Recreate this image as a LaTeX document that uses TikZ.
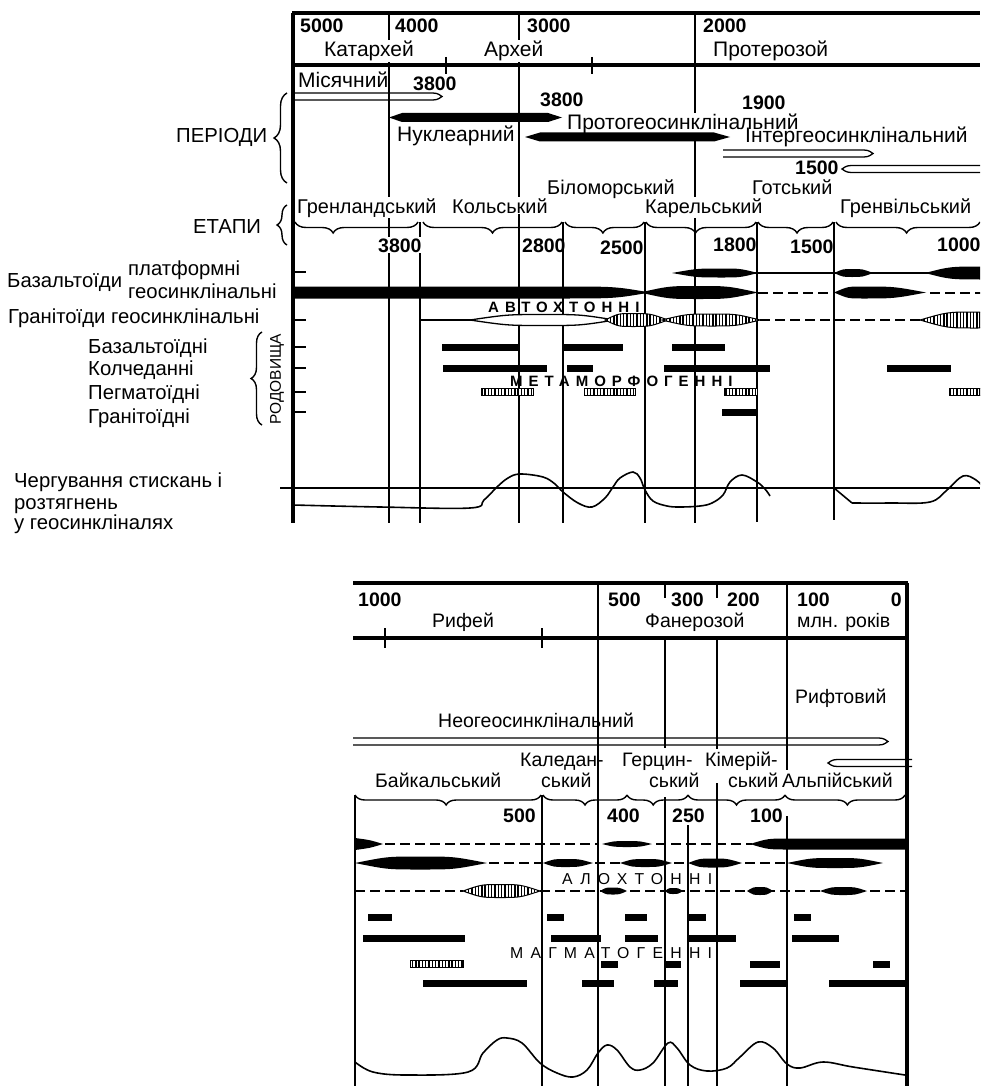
\documentclass[tikz,border=0pt]{standalone}
\usepackage{fontspec}
\setmainfont{Liberation Sans}
\newfontfamily\spcb[LetterSpace=40]{Liberation Sans}
\newfontfamily\spcr[LetterSpace=46]{Liberation Sans}
\usetikzlibrary{decorations.pathreplacing,patterns.meta}

\newcommand{\lensG}[6][fill=black]{%
  \path[#1] (#2,#4) .. controls ({#2+0.5*(#6-#2)},{#4-#5}) .. (#6,{#4-#5})
   .. controls ({#6+0.5*(#3-#6)},{#4-#5}) .. (#3,#4)
   .. controls ({#6+0.5*(#3-#6)},{#4+#5}) .. (#6,{#4+#5})
   .. controls ({#2+0.5*(#6-#2)},{#4+#5}) .. (#2,#4) -- cycle;}
\newcommand{\hollowR}[3]{\draw[hol] (#1,{#3-3.5}) -- ({#2-14},{#3-3.5}) .. controls ({#2-5},{#3-3.5}) .. (#2,#3) .. controls ({#2-5},{#3+3.5}) .. ({#2-14},{#3+3.5}) -- (#1,{#3+3.5});}
\newcommand{\hollowL}[3]{\draw[hol] (#2,{#3-3.5}) -- ({#1+14},{#3-3.5}) .. controls ({#1+5},{#3-3.5}) .. (#1,#3) .. controls ({#1+5},{#3+3.5}) .. ({#1+14},{#3+3.5}) -- (#2,{#3+3.5});}
\newcommand{\dbar}[3]{\fill (#1,{#3-3.5}) rectangle (#2,{#3+3.5});}
\newcommand{\hatchbar}[3]{\path[hatch] (#1,{#3-3.5}) rectangle (#2,{#3+3.5});}
\newcommand{\hbrace}[4]{\draw[decorate,decoration={brace,mirror,amplitude=#4pt,aspect=#3},line width=1.4pt] (#1) -- (#2);}

\begin{document}
\begin{tikzpicture}[x=1pt,y=-1pt,
  lbl/.style={anchor=base west,inner sep=0pt,font=\fontsize{19.5}{22}\selectfont},
  lbla/.style={anchor=base west,inner sep=0pt,font=\fontsize{21}{23}\selectfont},
  lbll/.style={anchor=base west,inner sep=0pt,font=\fontsize{20.3}{23}\selectfont},
  lble/.style={anchor=base west,inner sep=0pt,font=\fontsize{19.9}{22}\selectfont},
  mask/.style={fill=white,inner ysep=1pt},
  num/.style={lbl,font=\fontsize{19.5}{22}\selectfont\bfseries},
  spl/.style={anchor=base west,inner sep=0pt,font=\spcb\fontsize{15}{17}\selectfont\bfseries},
  splr/.style={anchor=base west,inner sep=0pt,font=\spcr\fontsize{15.8}{17}\selectfont},
  frm/.style={line width=3.2pt},
  vl/.style={line width=2pt},
  tk/.style={line width=1.5pt},
  hol/.style={line width=1.3pt},
  dsh/.style={line width=2pt,dash pattern=on 10pt off 5pt},
  crv/.style={line width=1.6pt},
  hatch/.style={preaction={fill=white},pattern={Lines[angle=90,distance=3.3pt,line width=1.4pt]},draw,line width=1pt},
  vbrc/.style={decorate,decoration={brace,amplitude=#1},line width=1.4pt}
]
\useasboundingbox (0,0) rectangle (980,1086);
\clip (0,0) rectangle (980,1086);

% ================= TOP PANEL =================
\draw[frm] (292,13) -- (980,13);
\draw[frm] (292,65) -- (980,65);
\draw[line width=3.5pt] (293,13) -- (293,523);
\draw[vl] (389,13) -- (389,523);
\draw[vl] (519,13) -- (519,523);
\draw[vl] (695,13) -- (695,523);
\draw[vl] (420,222) -- (420,523);
\draw[vl] (563,222) -- (563,523);
\draw[vl] (645,222) -- (645,523);
\draw[vl] (757,222) -- (757,522);
\draw[vl] (834,222) -- (834,520);
\draw[tk] (446,57) -- (446,74);
\draw[tk] (592,57) -- (592,74);
\foreach \yy in {272,320,347,368,392,412} \draw[tk] (293,\yy) -- (306,\yy);
\draw[tk] (280,488) -- (980,488);

% header texts
\node[num] (n5000) at (300,33) {5000};
\node[num] (n4000) at (395,33) {4000};
\node[num] (n3000) at (527,33) {3000};
\node[num] (n2000) at (703,33) {2000};
\node[lbla,mask] (katar) at (324,57) {Катархей};
\node[lbla,mask] (arkh) at (484,57) {Архей};
\node[lbla] (proter) at (713,57) {Протерозой};

% periods
\node[lbla] (misyach) at (298,88) {Місячний};
\node[num] (p3800a) at (413,91) {3800};
\node[num] (p3800b) at (540,107) {3800};
\node[lbla] (nukl) at (397,142) {Нуклеарний};
\node[lbla,mask] (protog) at (567,130) {Протогеосинклінальний};
\node[num] (p1900) at (742,110) {1900};
\node[lbla] (interg) at (745,143) {Інтергеосинклінальний};
\node[num] (p1500) at (795,175) {1500};
\hollowR{293}{442}{96.5}
\fill (389,117.5) -- (402,113) -- (548,113) -- (562,117.5) -- (548,122) -- (402,122) -- cycle;
\fill (525,137) -- (540,132.5) -- (714,132.5) -- (730,137) -- (714,141.5) -- (540,141.5) -- cycle;
\hollowR{723}{873}{153.5}
\hollowL{842}{990}{169}

% etapi
\node[lble] (bilom) at (547,194) {Біломорський};
\node[lble] (gots) at (752,194) {Готський};
\node[lble,mask] (grenl) at (297,213) {Гренландський};
\node[lble,mask] (kol) at (452,213) {Кольський};
\node[lble,mask] (karel) at (645,213) {Карельський};
\node[lble] (grenv) at (840,213) {Гренвільський};
\hbrace{295,222}{418,222}{0.31}{11}
\hbrace{423,222}{562,222}{0.5}{11}
\hbrace{565,222}{644,222}{0.48}{11}
\hbrace{646,222}{756,222}{0.45}{11}
\hbrace{758,222}{833,222}{0.52}{11}
\hbrace{836,222}{980,222}{0.49}{11}
\node[num,mask] (e3800) at (378,252) {3800};
\node[num] (e2800) at (522,252) {2800};
\node[num] (e2500) at (600,254) {2500};
\node[num] (e1800) at (713,251) {1800};
\node[num] (e1500) at (790,253) {1500};
\node[num] (e1000) at (937,251) {1000};

% left labels
\node[lbll] (perl) at (176,143) {ПЕРІОДИ};
\node[lbll] (etl) at (193,233) {ЕТАПИ};
\node[lbll] (bazl) at (7,287) {Базальтоїди};
\node[lbll] (platl) at (128,275) {платформні};
\node[lbll] (geosl) at (128,298) {геосинклінальні};
\node[lbll] (granl) at (8,323) {Гранітоїди геосинклінальні};
\node[lbll] (bazd) at (88,353) {Базальтоїдні};
\node[lbll] (kold) at (88,375) {Колчеданні};
\node[lbll] (pegd) at (88,399) {Пегматоїдні};
\node[lbll] (grand) at (88,423) {Гранітоїдні};
\node[lbll] (cherg1) at (14,487) {Чергування стискань і};
\node[lbll] (cherg2) at (14,509) {розтягнень};
\node[lbll] (cherg3) at (14,529) {у геосинкліналях};
\node[rotate=90,inner sep=0pt,font=\fontsize{15.5}{17}\selectfont] (rodov) at (277,379) {РОДОВИЩА};
\draw[vbrc=13pt] (287,183) -- (287,93);
\draw[vbrc=10pt] (287,245) -- (287,205);
\draw[vbrc=11pt] (262,425) -- (262,332);

% basalt platform row
\draw[line width=2pt] (700,273) -- (930,273);
\lensG{672}{758}{273}{4.5}{722}
\lensG{834}{873}{273}{4}{852}
\fill (925,273) .. controls (950,266.5) .. (985,266.5) -- (985,279.5) .. controls (950,279.5) .. (925,273) -- cycle;
% basalt geosyncl row
\fill (293,286.5) -- (560,286.5) .. controls (615,286.5) .. (650,292.5) .. controls (615,298.5) .. (560,298.5) -- (293,298.5) -- cycle;
\lensG{640}{758}{292.5}{6.5}{698}
\draw[dsh] (758,292.5) -- (834,292.5);
\lensG{834}{926}{292.5}{6}{862}
\draw[dsh] (930,292.5) -- (985,292.5);
% granitoid row
\draw[line width=1.5pt] (420,320) -- (472,320);
\lensG[draw,line width=1.3pt,fill=white]{470}{615}{320}{5.5}{545}
\lensG[hatch]{605}{668}{320}{6.5}{632}
\lensG[hatch]{662}{760}{320}{6}{712}
\draw[dsh,line width=1.8pt] (760,320) -- (922,320);
\lensG[hatch]{920}{1010}{320}{8}{975}
\node[spl] (avto) at (488,312) {АВТОХТОННІ};

% deposits
\dbar{442}{518}{347} \dbar{563}{623}{347} \dbar{672}{725}{347}
\dbar{443}{547}{368} \dbar{567}{593}{368} \dbar{664}{770}{368} \dbar{887}{951}{368}
\hatchbar{481}{533}{392} \hatchbar{584}{635}{392} \hatchbar{724}{757}{392} \hatchbar{949}{990}{392}
\dbar{722}{756}{412}
\node[spl] (metam) at (510,386) {МЕТАМОРФОГЕННІ};

% curve top
\draw[crv] plot[smooth,tension=0.6] coordinates {(293,505) (380,507) (470,508) (484,500) (497,487) (508,478) (520,474) (543,477) (555,484) (563,492) (578,503) (592,507) (605,498) (613,487) (620,478) (633,472) (640,478) (645,490) (653,501) (667,506) (680,507) (700,506) (712,503) (723,495) (730,482) (742,475) (757,482) (765,489) (770,496)};
\draw[crv] (834,488) -- (852,503);
\draw[crv] plot[smooth,tension=0.6] coordinates {(852,503) (890,503) (930,502) (947,490) (963,476) (976,480) (986,490)};

% ================= BOTTOM PANEL =================
\draw[frm] (353,583) -- (908,583);
\draw[frm] (353,638) -- (908,638);
\draw[frm] (907,583) -- (907,1086);
\draw[line width=2.2pt] (355,795) -- (355,1086);
\draw[vl] (598,583) -- (598,1086);
\draw[vl] (665,583) -- (665,598); \draw[vl] (665,638) -- (665,748); \draw[vl] (665,797) -- (665,1086);
\draw[vl] (717,583) -- (717,598); \draw[vl] (717,638) -- (717,749); \draw[vl] (717,783) -- (717,1086);
\draw[vl] (787,583) -- (787,770); \draw[vl] (787,816) -- (787,1086);
\draw[vl] (542,795) -- (542,1086);
\draw[vl] (688,825) -- (688,1086);
\draw[tk] (385,628) -- (385,648);
\draw[tk] (542,628) -- (542,648);

\node[num] (b1000) at (358,606) {1000};
\node[lbl] (rifey) at (432,627) {Рифей};
\node[num] (b500) at (608,606) {500};
\node[num] (b300) at (671,606) {300};
\node[num] (b200) at (727,606) {200};
\node[num] (b100) at (797,606) {100};
\node[num,anchor=base east] (b0) at (902,606) {0};
\node[lbl] (faner) at (645,627) {Фанерозой};
\node[lbl] (mln) at (797,627) {млн. років};

\node[lbl] (neog) at (438,727) {Неогеосинклінальний};
\node[lbl] (rift) at (795,703) {Рифтовий};
\hollowR{353}{888}{741.5}
\hollowL{828}{912}{763}

\node[lbl] (kal1) at (520,766) {Каледан-};
\node[lbl] (kal2) at (541,787) {ський};
\node[lbl] (baik) at (375,787) {Байкальський};
\node[lbl] (ger1) at (622,766) {Герцин-};
\node[lbl] (ger2) at (649,787) {ський};
\node[lbl] (kim1) at (705,766) {Кімерій-};
\node[lbl] (kim2) at (728,787) {ський};
\node[lbl] (alp) at (782,787) {Альпійський};
\hbrace{355,795}{541,795}{0.49}{10}
\hbrace{543,795}{627,795}{0.5}{10}
\hbrace{627,795}{688,795}{0.43}{10}
\hbrace{688,795}{785,795}{0.5}{10}
\hbrace{785,795}{905,795}{0.52}{10}
\node[num] (be500) at (503,822) {500};
\node[num] (be400) at (607,822) {400};
\node[num] (be250) at (672,822) {250};
\node[num] (be100) at (750,822) {100};

% rows bottom
\fill (355,838) .. controls (370,840) .. (383,844) .. controls (370,848) .. (355,850) -- cycle;
\draw[dsh] (385,844) -- (598,844);
\lensG{602}{652}{844}{3}{627}
\draw[dsh] (656,844) -- (752,844);
\fill (750,844) .. controls (768,838.5) .. (790,838.5) -- (907,838.5) -- (907,849.5) -- (790,849.5) .. controls (768,849.5) .. (750,844) -- cycle;

\lensG{355}{487}{863}{6.5}{420}
\draw[dsh] (489,863) -- (543,863);
\lensG{543}{593}{863}{4}{565}
\draw[dsh] (595,863) -- (620,863);
\lensG{620}{672}{863}{4}{645}
\draw[dsh] (674,863) -- (688,863);
\lensG{688}{742}{863}{4.5}{712}
\draw[dsh] (745,863) -- (786,863);
\lensG{787}{883}{863}{5}{835}
\node[splr] (aloh) at (562,884) {АЛОХТОННІ};

\draw[dsh,line width=1.8pt] (355,891) -- (463,891);
\lensG[hatch]{463}{540}{891}{6.5}{500}
\draw[dsh,line width=1.8pt] (540,891) -- (907,891);
\lensG{600}{627}{891}{3.5}{612}
\lensG{665}{683}{891}{3}{673}
\lensG{747}{773}{891}{4}{760}
\lensG{820}{867}{891}{4}{843}

\dbar{368}{392}{917} \dbar{547}{564}{917} \dbar{625}{647}{917} \dbar{688}{706}{917} \dbar{794}{811}{917}
\dbar{363}{465}{938} \dbar{551}{601}{938} \dbar{625}{658}{938} \dbar{688}{736}{938} \dbar{792}{839}{938}
\node[splr] (magm) at (510,958) {МАГМАТОГЕННІ};
\hatchbar{410}{463}{964}
\dbar{601}{618}{964} \dbar{665}{681}{964} \dbar{750}{780}{964} \dbar{873}{890}{964}
\dbar{423}{527}{983} \dbar{582}{614}{983} \dbar{654}{678}{983} \dbar{740}{787}{983} \dbar{829}{907}{983}

\draw[crv] plot[smooth,tension=0.6] coordinates {(355,1062) (373,1072) (407,1075) (468,1072) (483,1053) (497,1040) (507,1038) (522,1043) (540,1063) (557,1073) (573,1077) (587,1070) (598,1053) (607,1045) (617,1050) (630,1067) (640,1070) (653,1063) (668,1043) (677,1048) (690,1065) (707,1071) (727,1068) (740,1057) (758,1042) (773,1048) (787,1064) (800,1068) (823,1062) (853,1067) (905,1075)};
\end{tikzpicture}
\end{document}
